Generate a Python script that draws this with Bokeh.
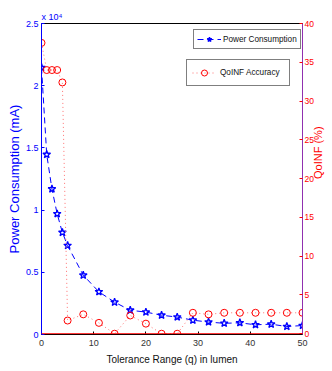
import math
from bokeh.plotting import figure
from bokeh.models import Range1d, LinearAxis, FixedTicker, Legend, LegendItem, Span, Title
from bokeh.embed import file_html
from bokeh.resources import INLINE

# ---- data ----
tolerance = [0, 1, 2, 3, 4, 5, 8, 11, 14, 17, 20, 23, 26, 29, 32, 35, 38, 41, 44, 47, 50]
power_ma = [21460, 14470, 11700, 9700, 8200, 7150, 4770, 3430, 2600, 1950, 1800,
            1550, 1400, 1150, 1000, 900, 940, 780, 830, 640, 720]
accuracy_pct = [37.5, 34.0, 34.0, 34.0, 32.4, 1.7, 2.5, 1.4, 0.0, 2.35, 1.3,
                0.0, 0.0, 2.7, 2.5, 2.7, 2.7, 2.7, 2.7, 2.7, 2.7]
x_ticks = [0, 10, 20, 30, 40, 50]
left_ticks = [0, 5000, 10000, 15000, 20000, 25000]
left_tick_labels = ["0", "0.5", "1", "1.5", "2", "2.5"]
right_ticks = [0, 5, 10, 15, 20, 25, 30, 35, 40]

FONT = "Liberation Sans"
BLUE = "#0000ff"
RED = "#ff0000"

p = figure(width=332, height=371, output_backend="svg", toolbar_location=None,
           x_range=Range1d(0, 50), y_range=Range1d(0, 25000),
           min_border_left=41, min_border_right=20, min_border_top=23, min_border_bottom=37)
p.extra_y_ranges = {"right": Range1d(-0.1, 40)}
p.outline_line_color = "black"
p.outline_line_width = 1
p.grid.visible = False
p.background_fill_color = "white"
p.border_fill_color = "white"

def style_axis(ax, color, label_color=None):
    ax.axis_line_color = color
    ax.axis_line_width = 1
    ax.major_tick_line_color = color
    ax.major_tick_in = 3
    ax.major_tick_out = 0
    ax.minor_tick_line_color = None
    ax.major_label_text_font = FONT
    ax.major_label_text_font_size = "9px"
    ax.major_label_text_color = label_color or color
    ax.axis_label_text_font = FONT
    ax.axis_label_text_font_style = "normal"

# bottom axis
xa = p.xaxis[0]
style_axis(xa, "black", "#333333")
xa.ticker = FixedTicker(ticks=x_ticks)
xa.major_label_standoff = 5
xa.axis_label = "Tolerance Range (q) in lumen"
xa.axis_label_text_font_size = "10px"
xa.axis_label_text_color = "#111111"
xa.axis_label_standoff = 5

# left axis
ya = p.yaxis[0]
style_axis(ya, BLUE)
ya.ticker = FixedTicker(ticks=left_ticks)
ya.major_label_overrides = dict(zip(left_ticks, left_tick_labels))
ya.major_label_standoff = 3
ya.axis_label = "Power Consumption (mA)"
ya.axis_label_text_font_size = "13px"
ya.axis_label_text_color = BLUE
ya.axis_label_standoff = 1

# right axis
ra = LinearAxis(y_range_name="right", ticker=FixedTicker(ticks=right_ticks),
                axis_label="QoINF (%)")
style_axis(ra, "#9030b0", RED)
ra.major_tick_line_color = RED
ra.major_label_standoff = 2
ra.major_label_text_font_size = "8.5px"
ra.axis_label_text_font_size = "11px"
ra.axis_label_text_color = RED
ra.axis_label_standoff = 1
ra.axis_label_orientation = math.pi / 2
p.add_layout(ra, "right")

# exponent of the left axis
p.add_layout(Title(text="x 10\u2074", align="left", offset=0, standoff=3,
                   text_font=FONT, text_font_size="9px", text_font_style="normal",
                   text_color=BLUE), "above")

# red x-axis line of second axes
p.add_layout(Span(location=0, dimension="width", y_range_name="right",
                  line_color=RED, line_width=1))

# series
r_pow_line = p.line(tolerance, power_ma, line_color=BLUE, line_dash="6 4", line_width=1)
r_pow_pts = p.scatter(tolerance, power_ma, marker="star", size=8,
                      line_color=BLUE, fill_color=None, line_width=1.3)
r_acc_line = p.line(tolerance, accuracy_pct, y_range_name="right",
                    line_color="#ff7070", line_dash="1 3", line_width=1)
r_acc_pts = p.scatter(tolerance, accuracy_pct, y_range_name="right", marker="circle",
                      size=7, line_color=RED, fill_color=None, line_width=1)

def make_legend(item, loc, pad, gw, gh, lw, standoff):
    return Legend(items=[item], location=loc, padding=pad, margin=0, spacing=0,
                  glyph_width=gw, glyph_height=gh, label_height=gh, label_width=lw,
                  label_standoff=standoff, label_text_font=FONT,
                  label_text_font_size="8.2px", label_text_color="#111111",
                  border_line_color="black", border_line_width=1,
                  background_fill_color="white", background_fill_alpha=1)

leg1 = make_legend(LegendItem(label="Power Consumption", renderers=[r_pow_line, r_pow_pts]),
                   (152, 285), 3, 24, 12, 72, 2)
leg2 = make_legend(LegendItem(label="QoINF Accuracy", renderers=[r_acc_line, r_acc_pts]),
                   (145, 248), 5, 24, 15, 64, 4)
p.add_layout(leg1)
p.add_layout(leg2)

open("out.html", "w").write(file_html(p, INLINE))
